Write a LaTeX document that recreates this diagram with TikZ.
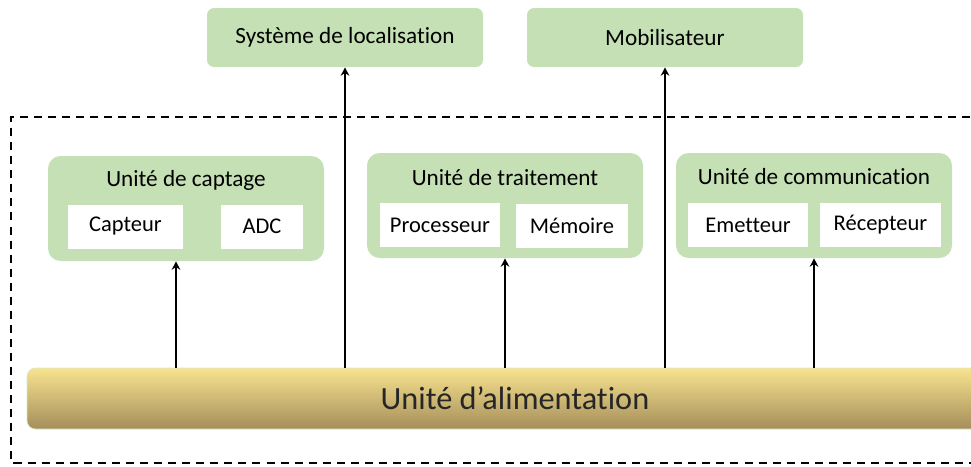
\documentclass[tikz,border=0pt]{standalone}
\usepackage{fontspec}
\setmainfont{Carlito}[Ligatures = NoCommon]
\usetikzlibrary{positioning, arrows.meta, calc}

\definecolor{vertclair}{HTML}{C5E0B4}
\definecolor{orhaut}{HTML}{F8E38F}
\definecolor{orbas}{HTML}{A58E5A}
\definecolor{bordvert}{HTML}{D4EBC8}

\begin{document}
\begin{tikzpicture}[
    extbox/.style = {
      rectangle, rounded corners = 5pt,
      minimum width = 6.9cm, minimum height = 1.475cm,
      font = \fontsize{16.5}{19}\selectfont,
      fill = vertclair
    },
    groupbox/.style = {
      rectangle, rounded corners = 9pt,
      minimum width = 6.9cm, minimum height = 2.625cm,
      fill = vertclair
    },
    grtitle/.style = {
      font = \fontsize{16.5}{19}\selectfont, inner sep = 0pt
    },
    whitebox/.style = {
      rectangle, fill = white,
      minimum height = 1.1cm, font = \fontsize{16}{19}\selectfont
    },
    alimbar/.style = {
      rectangle, draw = bordvert, rounded corners = 6pt,
      top color = orhaut, bottom color = orbas,
      minimum width = 24.4cm, minimum height = 1.525cm,
      font = \fontsize{23}{27}\selectfont, text = black!85
    },
    arr/.style = {-{Stealth[length=6pt, width=6pt]}, line width = 1.2pt}
  ]

  \clip (0,0) rectangle (24.275,-11.65);

  % ---- Cadre en pointilles ----
  \draw[line width = 1.6pt, dash pattern = on 5.7pt off 4.3pt]
    (24.6,-2.925) -- (0.275,-2.925) -- (0.275,-11.575) -- (24.6,-11.575);

  % ---- Blocs externes ----
  \node[extbox] (loc) at (8.625,-0.9375)  {Système de localisation};
  \node[extbox] (mob) at (16.625,-0.9375) {Mobilisateur};

  % ---- Unite de captage ----
  \node[groupbox] (capt) at (4.65,-5.2125) {};
  \node[grtitle]  (captt) at (4.65,-4.5) {Unité de captage};
  \node[whitebox, minimum width = 2.875cm] (capteur) at (3.1375,-5.6625) {Capteur};
  \node[whitebox, minimum width = 2.05cm]  (adc)     at (6.55,-5.6625)   {ADC};

  % ---- Unite de traitement ----
  \node[groupbox] (trait) at (12.625,-5.1375) {};
  \node[grtitle]  (traitt) at (12.625,-4.45) {Unité de traitement};
  \node[whitebox, minimum width = 3.0cm] (proc) at (11.0,-5.625) {Processeur};
  \node[whitebox, minimum width = 2.8cm] (mem)  at (14.3,-5.65)  {Mémoire};

  % ---- Unite de communication ----
  \node[groupbox] (comm) at (20.35,-5.1375) {};
  \node[grtitle]  (commt) at (20.35,-4.425) {Unité de communication};
  \node[whitebox, minimum width = 3.0cm]   (emet) at (18.7,-5.625)    {Emetteur};
  \node[whitebox, minimum width = 3.025cm] (recp) at (22.0125,-5.625) {Récepteur};

  % ---- Unite d'alimentation ----
  \node[alimbar] (alim) at (12.875,-9.9625) {Unité d’alimentation};

  % Fleches depuis l'alimentation
  \coordinate (captin) at ($(capt.south)+(-0.25,0)$);
  \draw[arr] (alim.north -| captin) -- (captin);
  \draw[arr] (alim.north -| loc.south) -- (loc.south);
  \draw[arr] (alim.north -| trait.south) -- (trait.south);
  \draw[arr] (alim.north -| mob.south) -- (mob.south);
  \draw[arr] (alim.north -| comm.south) -- (comm.south);

\end{tikzpicture}
\end{document}
